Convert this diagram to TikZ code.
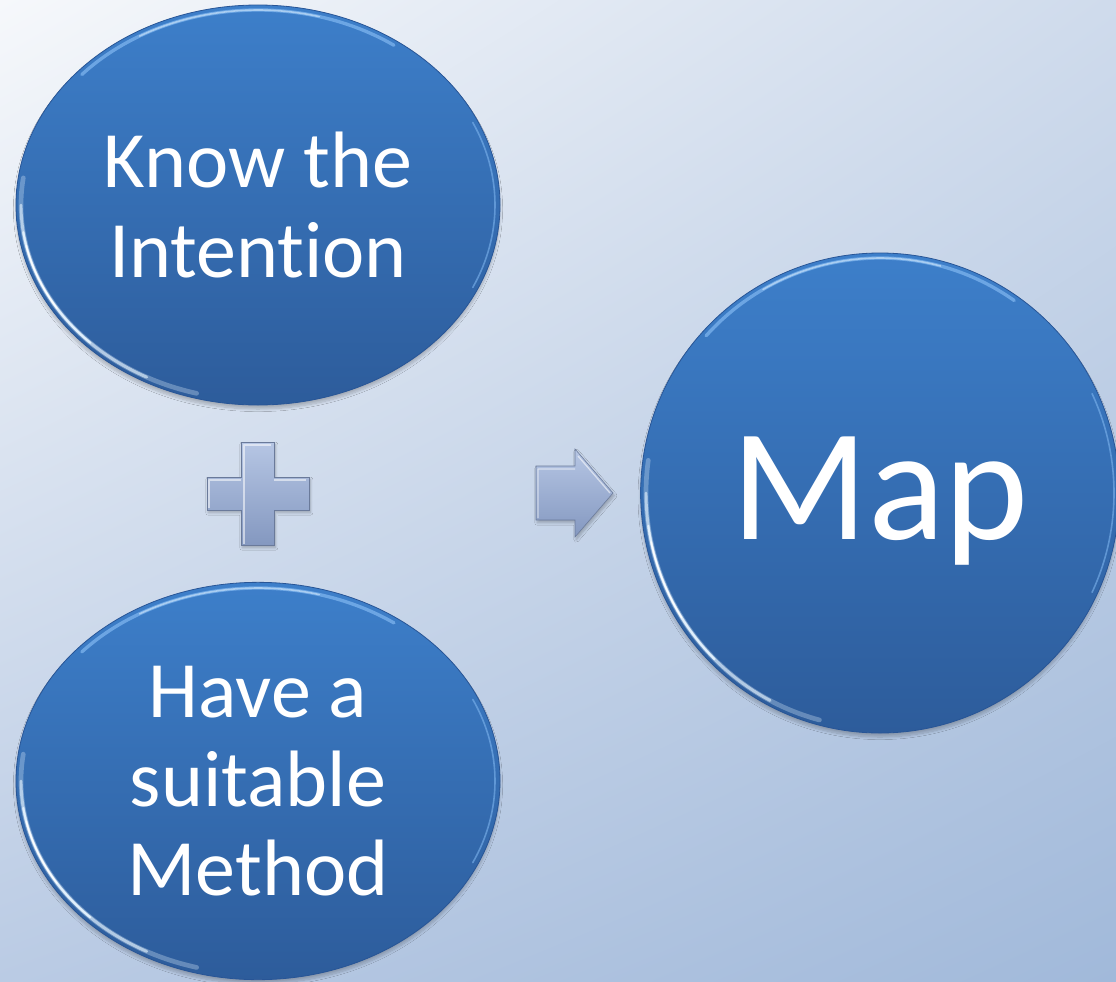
\documentclass[tikz,border=0pt]{standalone}
\usepackage{fontspec}
\setmainfont{Carlito}[Ligatures={NoCommon}]
\usetikzlibrary{shapes.geometric,shadows.blur,shadings}

\definecolor{bgTL}{RGB}{246,248,251}
\definecolor{bgTR}{RGB}{207,219,236}
\definecolor{bgBL}{RGB}{186,203,228}
\definecolor{bgBR}{RGB}{161,185,218}
\definecolor{blueTop}{RGB}{61,127,202}
\definecolor{blueBot}{RGB}{45,92,155}
\definecolor{blueEdge}{RGB}{40,85,150}
\definecolor{rimLight}{RGB}{230,244,255}
\definecolor{rimTop}{RGB}{125,180,238}
\definecolor{greyTop}{RGB}{182,198,228}
\definecolor{greyBot}{RGB}{132,152,192}

\tikzset{
  bubble/.style={ellipse, inner sep=0pt, text=white, align=center,
    top color=blueTop, bottom color=blueBot, draw=blueEdge, line width=0.6pt,
    blur shadow={shadow xshift=0pt, shadow yshift=-3pt, shadow opacity=22, shadow blur steps=10}},
  smallfont/.style={font=\fontsize{60}{67}\selectfont},
  bigfont/.style={font=\fontsize{120}{130}\selectfont},
  rimlow/.style={draw=rimLight, line cap=round},
  rimhigh/.style={draw=rimTop, line cap=round},
  opshape/.style={top color=greyTop, bottom color=greyBot, draw=greyBot!80!black, line width=0.4pt,
    blur shadow={shadow xshift=1pt, shadow yshift=-2pt, shadow opacity=25, shadow blur steps=6}},
  opbevel/.style={draw=white, opacity=0.55, line width=1pt, line join=round}
}

\begin{document}
\begin{tikzpicture}[x=0.75pt,y=-0.75pt]
\useasboundingbox (0,0) rectangle (1116,981);
\shade[upper left=bgTL, upper right=bgTR, lower left=bgBL, lower right=bgBR] (0,0) rectangle (1116,981);

% bubbles
\node[bubble, smallfont, minimum width=363pt, minimum height=300pt] (know) at (258,205) {Know the\\Intention};
\node[bubble, smallfont, minimum width=363pt, minimum height=298pt] (have) at (258,781) {Have a\\suitable\\Method};
\node[bubble, bigfont, minimum width=359pt, minimum height=360pt, text depth=8pt] (map) at (880,493) {Map};

% rim highlights
\foreach \cx/\cy/\rx/\ry in {258/205/237/195, 258/781/237/193, 880/493/234/235}{
  \begin{scope}[shift={(\cx,\cy)}]
    \draw[rimlow, opacity=0.3, line width=3.5pt] (105:\rx\space and \ry) arc[start angle=105, end angle=188, x radius=\rx, y radius=\ry];
    \draw[rimlow, opacity=0.6, line width=2.2pt] (118:\rx\space and \ry) arc[start angle=118, end angle=180, x radius=\rx, y radius=\ry];
    \draw[rimlow, opacity=0.9, line width=1.5pt] (135:\rx\space and \ry) arc[start angle=135, end angle=172, x radius=\rx, y radius=\ry];
    \draw[white, opacity=0.9, line width=1pt, line cap=round] (148:\rx\space and \ry) arc[start angle=148, end angle=168, x radius=\rx, y radius=\ry];
    \draw[rimhigh, opacity=0.75, line width=2.5pt] (222:\rx\space and \ry) arc[start angle=222, end angle=305, x radius=\rx, y radius=\ry];
    \draw[rimlow, opacity=0.5, line width=1.2pt] (240:\rx\space and \ry) arc[start angle=240, end angle=285, x radius=\rx, y radius=\ry];
    \draw[rimhigh, opacity=0.6, line width=1.2pt] (-25:\rx\space and \ry) arc[start angle=-25, end angle=25, x radius=\rx, y radius=\ry];
  \end{scope}
}

% plus sign
\path[opshape] (241,442) -- (274,442) -- (274,477) -- (309,477) -- (309,510) -- (274,510)
  -- (274,545) -- (241,545) -- (241,510) -- (207,510) -- (207,477) -- (241,477) -- cycle;
\draw[opbevel] (244,544) -- (244,445) -- (271,445) (209,508) -- (209,480) -- (241,480) (274,480) -- (306,480);

% arrow
\path[opshape] (536,466) -- (575,466) -- (575,449) -- (613,493) -- (575,537) -- (575,520) -- (536,520) -- cycle;
\draw[opbevel] (538,518) -- (538,469) -- (575,469) (578,456) -- (610,493);
\end{tikzpicture}
\end{document}
